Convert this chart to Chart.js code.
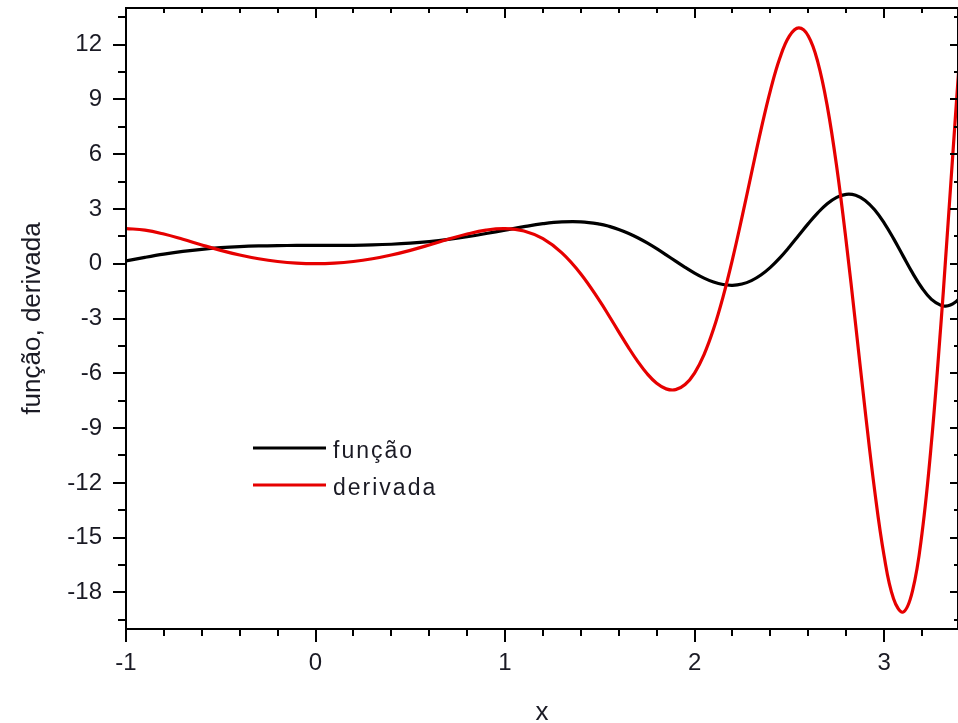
<!DOCTYPE html>
<html>
<head>
<meta charset="utf-8">
<script src="https://cdn.jsdelivr.net/npm/chart.js@4/dist/chart.umd.min.js"></script>
<style>
  html, body { margin: 0; padding: 0; background: #ffffff; }
  canvas { display: block; }
</style>
</head>
<body>
<canvas id="c" width="958" height="723"></canvas>
<script>
// ---- data ----
const xValues = [-1.0,-0.9,-0.8,-0.7,-0.6,-0.5,-0.4,-0.3,-0.2,-0.1,0,0.1,0.2,0.3,0.4,0.5,0.6,0.7,0.8,0.9,1.0,1.1,1.2,1.3,1.4,1.5,
  1.55,1.6,1.65,1.7,1.75,1.8,1.85,1.9,1.95,2.0,2.05,2.1,2.15,2.2,2.25,2.3,2.35,2.4,2.45,2.5,2.55,2.6,2.65,2.7,2.75,2.8,2.85,2.9,2.95,3.0,3.05,3.1,3.15,3.2,3.25,3.3,3.325,3.35,3.375,3.4];
const funcaoValues = [0.158,0.348,0.522,0.671,0.789,0.876,0.936,0.973,0.992,0.999,1.0,1.001,1.008,1.027,1.064,1.124,1.211,1.329,1.478,1.652,1.841,2.029,2.190,2.291,2.295,2.167,
  2.044,1.879,1.671,1.423,1.138,0.823,0.487,0.142,-0.197,-0.514,-0.789,-1.005,-1.141,-1.182,-1.113,-0.927,-0.620,-0.199,0.321,0.917,1.555,2.193,2.786,3.282,3.634,3.800,3.748,3.463,2.950,2.236,1.372,0.429,-0.504,-1.329,-1.950,-2.282,-2.319,-2.264,-2.115,-1.873];
const derivadaValues = [1.922,1.841,1.624,1.335,1.026,0.732,0.475,0.269,0.120,0.030,0,0.030,0.120,0.269,0.475,0.732,1.026,1.335,1.624,1.841,1.922,1.790,1.367,0.591,-0.562,-2.049,
  -2.878,-3.729,-4.567,-5.349,-6.027,-6.547,-6.854,-6.894,-6.617,-5.986,-4.977,-3.581,-1.826,0.240,2.534,4.939,7.311,9.479,11.259,12.459,12.911,12.472,11.053,8.640,5.305,1.219,-3.346,-8.028,-12.398,-15.988,-18.343,-19.075,-17.915,-14.771,-9.774,-3.290,0.328,4.076,7.843,11.522];
const seriesLabels = ['função', 'derivada'];
const xTickValues = [-1, 0, 1, 2, 3];
const yTickValues = [-18, -15, -12, -9, -6, -3, 0, 3, 6, 9, 12];
const xTitle = 'x';
const yTitle = 'função, derivada';

Chart.defaults.font.family = "'Liberation Sans', Arial, sans-serif";

// frame + minor/major tick marks drawn through the chart's scales
const frameTicks = {
  id: 'frameTicks',
  afterDatasetsDraw(chart) {
    const { ctx, chartArea: a, scales: { x, y } } = chart;
    ctx.save();
    ctx.strokeStyle = '#000';
    ctx.lineWidth = 2;
    ctx.lineCap = 'butt';
    ctx.strokeRect(a.left, a.top, a.right - a.left, a.bottom - a.top);
    ctx.beginPath();
    for (let i = 0; ; i++) {
      const v = x.min + i * 0.2;
      if (v > x.max + 1e-9) break;
      const px = Math.round(x.getPixelForValue(v));
      const major = Math.abs(v - Math.round(v)) < 1e-6;
      ctx.moveTo(px, a.bottom); ctx.lineTo(px, a.bottom + (major ? 13 : 7));
      ctx.moveTo(px, a.top); ctx.lineTo(px, a.top + (major ? 10 : 5));
    }
    for (let i = 0; ; i++) {
      const v = -19.5 + i * 1.5;
      if (v > y.max + 1e-9) break;
      const py = Math.round(y.getPixelForValue(v));
      const major = Math.abs(v / 3 - Math.round(v / 3)) < 1e-6;
      ctx.moveTo(a.left, py); ctx.lineTo(a.left - (major ? 13 : 8), py);
      ctx.moveTo(a.right, py); ctx.lineTo(a.right - (major ? 8 : 4), py);
    }
    ctx.stroke();
    ctx.restore();
  }
};

// legend drawn inside the plot area
const legendBox = {
  id: 'legendBox',
  afterDatasetsDraw(chart) {
    const { ctx, chartArea: a } = chart;
    ctx.save();
    ctx.font = "23px 'Liberation Sans', Arial, sans-serif";
    if ('letterSpacing' in ctx) ctx.letterSpacing = '2px';
    ctx.textBaseline = 'alphabetic';
    ctx.textAlign = 'left';
    chart.data.datasets.forEach((ds, i) => {
      const ly = a.top + 440 + i * 37;
      ctx.strokeStyle = ds.borderColor;
      ctx.lineWidth = 3;
      ctx.beginPath();
      ctx.moveTo(a.left + 127, ly);
      ctx.lineTo(a.left + 200, ly);
      ctx.stroke();
      ctx.fillStyle = '#1a1a24';
      ctx.fillText(ds.label, a.left + 207, ly + 10);
    });
    ctx.restore();
  }
};

new Chart(document.getElementById('c'), {
  type: 'line',
  data: {
    datasets: [
      {
        label: seriesLabels[0],
        data: xValues.map((x, i) => ({ x, y: funcaoValues[i] })),
        borderColor: '#000000',
        borderWidth: 3.2,
        pointRadius: 0,
        tension: 0.4,
        fill: false,
        order: 1
      },
      {
        label: seriesLabels[1],
        data: xValues.map((x, i) => ({ x, y: derivadaValues[i] })),
        borderColor: '#e60000',
        borderWidth: 3.2,
        pointRadius: 0,
        tension: 0.4,
        fill: false,
        order: 0
      }
    ]
  },
  options: {
    responsive: false,
    animation: false,
    layout: { padding: { top: 8, right: 0, bottom: 0, left: 0 } },
    plugins: { legend: { display: false }, tooltip: { enabled: false } },
    scales: {
      x: {
        type: 'linear',
        min: -1,
        max: 3.39,
        grid: { display: false, drawTicks: false },
        border: { display: false },
        ticks: { font: { size: 24 }, color: '#1a1a24', padding: 20, maxRotation: 0, autoSkip: false, includeBounds: false },
        afterBuildTicks: s => { s.ticks = xTickValues.map(v => ({ value: v })); },
        afterFit: s => { s.height = 94; s.paddingLeft = 0; s.paddingRight = 0; },
        title: { display: true, text: xTitle, color: '#1a1a24', font: { size: 26, lineHeight: 0.75 }, padding: { top: 0, bottom: 0 } }
      },
      y: {
        type: 'linear',
        min: -20,
        max: 14,
        grid: { display: false, drawTicks: false },
        border: { display: false },
        ticks: { font: { size: 24 }, color: '#1a1a24', padding: 24, autoSkip: false, includeBounds: false },
        afterBuildTicks: s => { s.ticks = yTickValues.map(v => ({ value: v })); },
        afterFit: s => { s.width = 126; s.paddingTop = 0; s.paddingBottom = 0; },
        title: { display: true, text: yTitle, color: '#1a1a24', font: { size: 26, lineHeight: 1.2 }, padding: { top: 17, bottom: 0 } }
      }
    }
  },
  plugins: [frameTicks, legendBox]
});
</script>
</body>
</html>
